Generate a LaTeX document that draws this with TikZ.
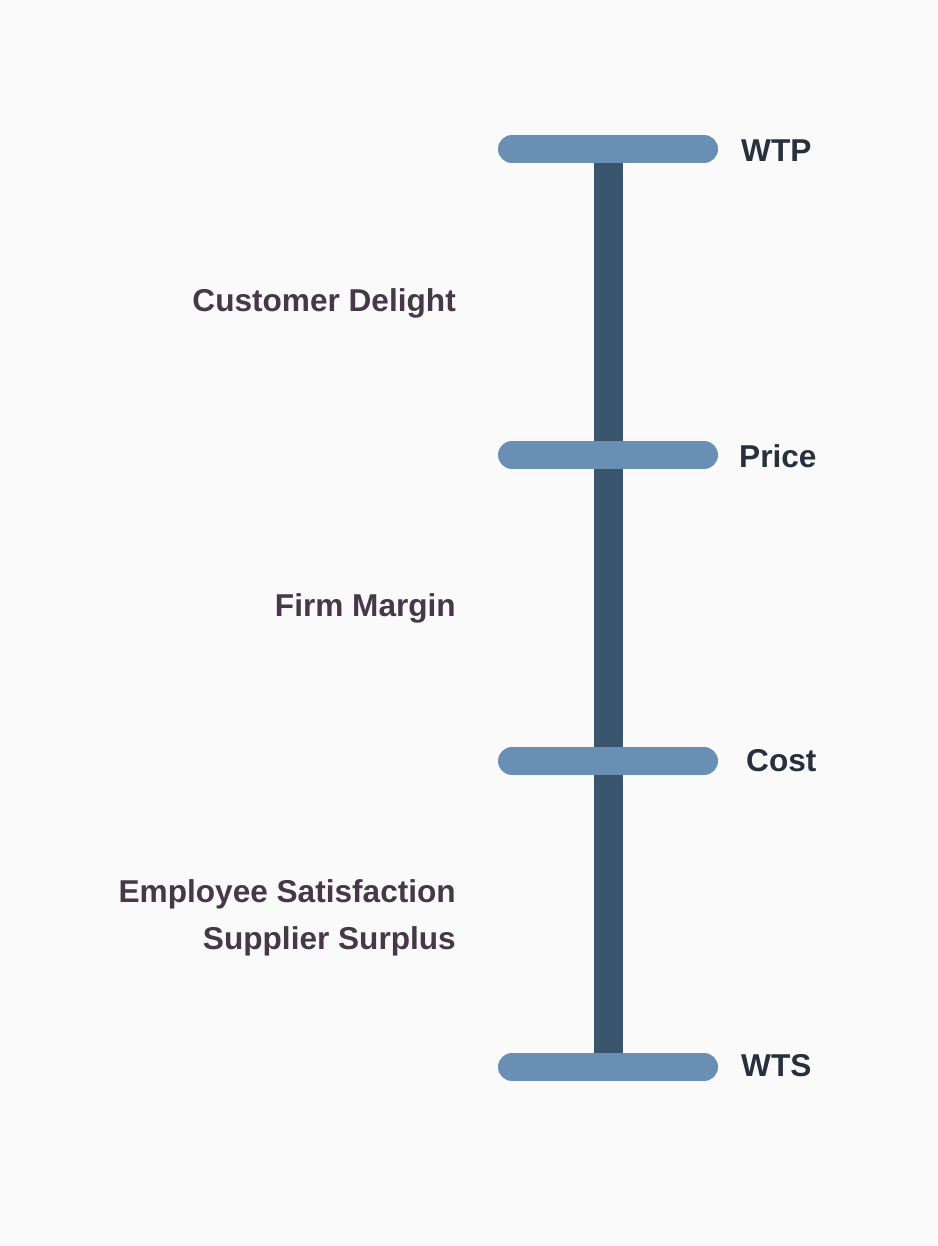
\documentclass[tikz,border=0pt]{standalone}
\usepackage{fontspec}
\setmainfont{Liberation Sans}
\usetikzlibrary{positioning}
\definecolor{bgcol}{HTML}{FAFAFA}
\definecolor{stemcol}{HTML}{3A566F}
\definecolor{tickcol}{HTML}{6A8FB4}
\definecolor{levelcol}{HTML}{27303D}
\definecolor{surpluscol}{HTML}{463848}
\tikzset{
  stem/.style={draw=stemcol, line width=29pt},
  tick/.style={draw=tickcol, line width=28pt, line cap=round},
  level/.style={font=\bfseries\fontsize{31.6}{36}\selectfont, text=levelcol, inner sep=0pt, anchor=base west},
  surplus/.style={font=\bfseries\fontsize{31.6}{36}\selectfont, text=surpluscol, inner sep=0pt, anchor=base east, align=right}
}
\begin{document}
\begin{tikzpicture}[x=1pt,y=-1pt]
  \fill[bgcol] (0,0) rectangle (937,1246);
  % bar ends
  \coordinate (wtpl) at (512,149);   \coordinate (wtpr) at (704,149);
  \coordinate (pricel) at (512,455); \coordinate (pricer) at (704,455);
  \coordinate (costl) at (512,761);  \coordinate (costr) at (704,761);
  \coordinate (wtsl) at (512,1067);  \coordinate (wtsr) at (704,1067);
  \coordinate (top) at (608,150);
  \coordinate (bottom) at (608,1062);

  \draw[stem] (top) -- (bottom);
  \foreach \b in {wtp,price,cost,wts}
    \draw[tick] (\b l) -- (\b r);

  % levels
  \node[level] (wtp) at (741,162) {WTP};
  \node[level] (price) at (739,467) {Price};
  \node[level] (cost) at (746,771) {Cost};
  \node[level] (wts) at (741,1076) {WTS};

  % surpluses
  \node[surplus] (delight) at (456,311) {Customer Delight};
  \node[surplus] (margin) at (456,616) {Firm Margin};
  \node[surplus] (employee) at (456,902) {Employee Satisfaction};
  \node[surplus] (supplier) [below=47pt of employee.base east, anchor=base east] {Supplier Surplus};
\end{tikzpicture}
\end{document}
